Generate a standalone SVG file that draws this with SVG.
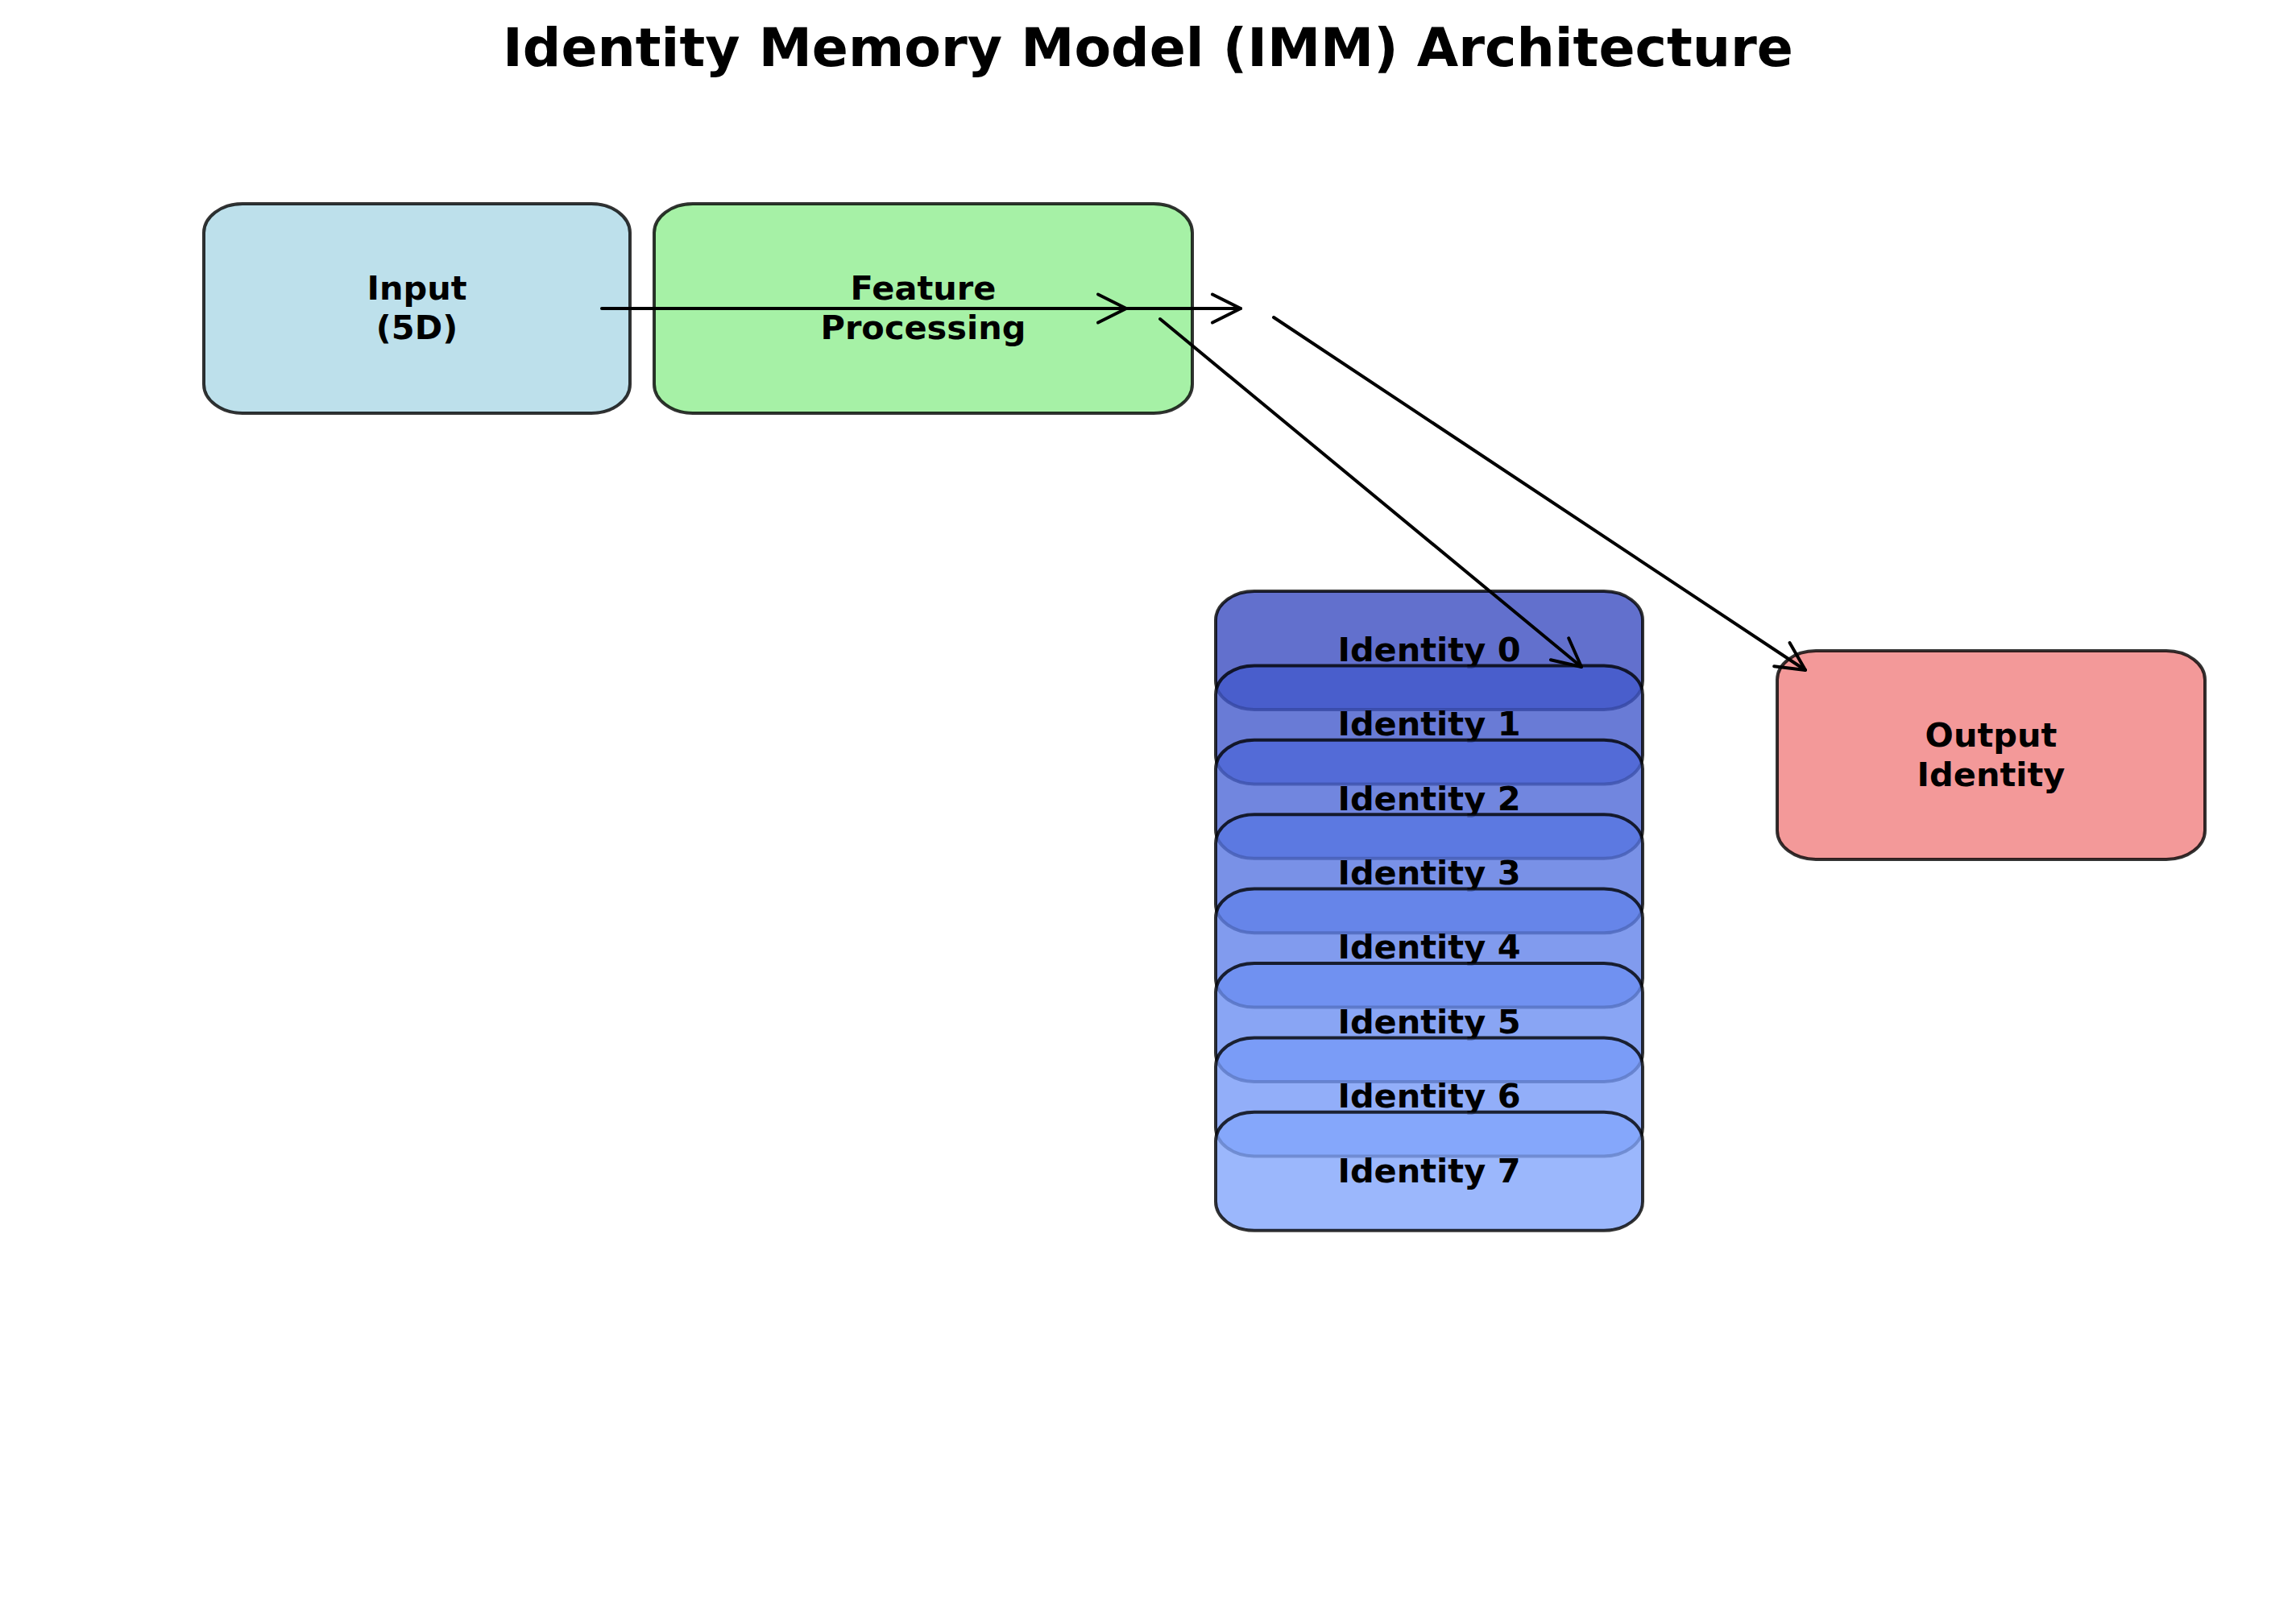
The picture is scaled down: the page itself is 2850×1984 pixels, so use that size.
<svg xmlns="http://www.w3.org/2000/svg" width="2850" height="1984" viewBox="0 0 2850 1984">
<style>
.bg{fill:#ffffff}
.box{stroke:#000000;stroke-opacity:0.8;stroke-width:4;fill-opacity:0.8}
.lbl{font-family:"DejaVu Sans",sans-serif;font-weight:bold;font-size:41.5px;text-anchor:middle;fill:#000000}
.title{font-family:"DejaVu Sans",sans-serif;font-weight:bold;font-size:66.5px;text-anchor:middle;fill:#000000}
.conn{stroke:#000000;stroke-width:4;fill:none;stroke-linecap:round}
</style>
<defs>
<marker id="head" markerUnits="userSpaceOnUse" orient="auto" refX="0" refY="0" markerWidth="60" markerHeight="60" viewBox="-45 -30 60 60" overflow="visible">
<path d="M -35,-17.5 L 0,0 L -35,17.5" fill="none" stroke="#000000" stroke-width="4" stroke-linecap="round" stroke-linejoin="round"/>
</marker>
</defs>
<rect class="bg" x="0" y="0" width="2850" height="1984"/>
<text class="title" x="1425" y="82">Identity Memory Model (IMM) Architecture</text>

<g id="node-input">
<rect class="box" x="253" y="253" width="529" height="260" rx="48" ry="36" fill="#ADD8E6"/>
<text class="lbl" x="517.5" y="372">Input</text>
<text class="lbl" x="517.5" y="421">(5D)</text>
</g>
<g id="node-feature">
<rect class="box" x="812" y="253" width="668" height="260" rx="48" ry="36" fill="#90EE90"/>
<text class="lbl" x="1146" y="372">Feature</text>
<text class="lbl" x="1146" y="421">Processing</text>
</g>
<g id="node-output">
<rect class="box" x="2206" y="808" width="531" height="259" rx="48" ry="36" fill="#F08080"/>
<text class="lbl" x="2471.5" y="926.5">Output</text>
<text class="lbl" x="2471.5" y="975.5">Identity</text>
</g>

<g id="node-identity-0">
<rect class="box" x="1509" y="734" width="530" height="147" rx="48" ry="36" fill="#3B4CC0"/>
<text class="lbl" x="1774" y="820.7">Identity 0</text>
</g>
<g id="node-identity-1">
<rect class="box" x="1509" y="826.4" width="530" height="147" rx="48" ry="36" fill="#445ACC"/>
<text class="lbl" x="1774" y="913.1">Identity 1</text>
</g>
<g id="node-identity-2">
<rect class="box" x="1509" y="918.8" width="530" height="147" rx="48" ry="36" fill="#4D68D7"/>
<text class="lbl" x="1774" y="1005.5">Identity 2</text>
</g>
<g id="node-identity-3">
<rect class="box" x="1509" y="1011.2" width="530" height="147" rx="48" ry="36" fill="#5775E1"/>
<text class="lbl" x="1774" y="1097.9">Identity 3</text>
</g>
<g id="node-identity-4">
<rect class="box" x="1509" y="1103.6" width="530" height="147" rx="48" ry="36" fill="#6282EA"/>
<text class="lbl" x="1774" y="1190.3">Identity 4</text>
</g>
<g id="node-identity-5">
<rect class="box" x="1509" y="1196" width="530" height="147" rx="48" ry="36" fill="#6C8EF1"/>
<text class="lbl" x="1774" y="1282.7">Identity 5</text>
</g>
<g id="node-identity-6">
<rect class="box" x="1509" y="1288.4" width="530" height="147" rx="48" ry="36" fill="#779AF7"/>
<text class="lbl" x="1774" y="1375.1">Identity 6</text>
</g>
<g id="node-identity-7">
<rect class="box" x="1509" y="1380.8" width="530" height="147" rx="48" ry="36" fill="#82A5FB"/>
<text class="lbl" x="1774" y="1467.5">Identity 7</text>
</g>

<g id="connectors">
<line class="conn" x1="747" y1="383" x2="1398" y2="383" marker-end="url(#head)"/>
<line class="conn" x1="886" y1="383" x2="1540" y2="383" marker-end="url(#head)"/>
<line class="conn" x1="1440" y1="396" x2="1963" y2="828" marker-end="url(#head)"/>
<line class="conn" x1="1581" y1="394" x2="2241" y2="832" marker-end="url(#head)"/>
</g>
</svg>
